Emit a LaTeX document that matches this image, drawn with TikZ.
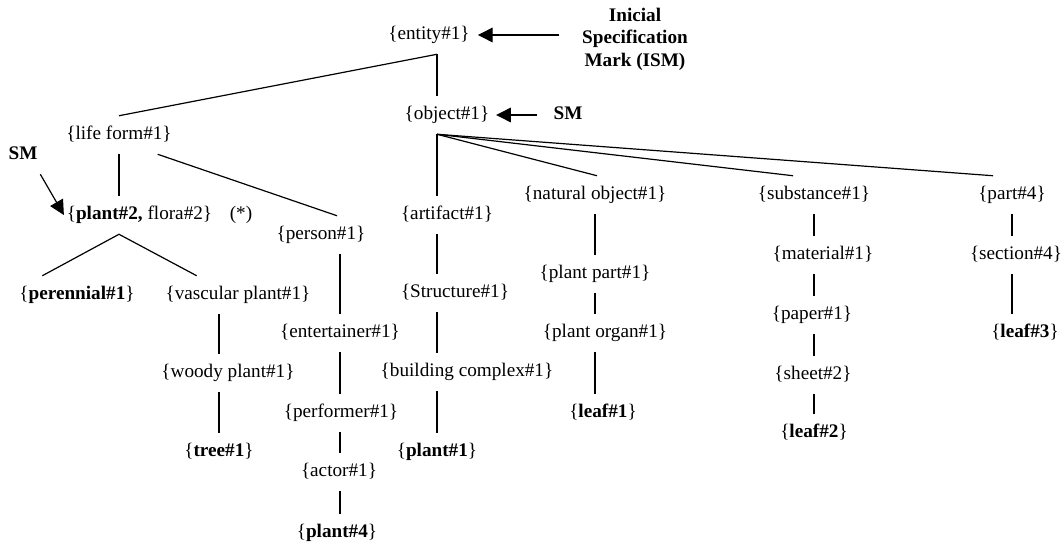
\documentclass[tikz,border=0pt]{standalone}
\usepackage{fontspec}
\setmainfont{Liberation Serif}
\usetikzlibrary{arrows.meta}
\tikzstyle{syn} = [inner xsep=2pt, inner ysep=7.5pt, text height=10pt, text depth=3.5pt, font=\fontsize{14.4}{17}\selectfont]
\tikzstyle{smlabel} = [syn, font=\fontsize{14.4}{17}\selectfont\bfseries]
\tikzstyle{ismlabel} = [inner sep=2pt, align=center, font=\fontsize{14.4}{16.9}\selectfont\bfseries]
\tikzstyle{link} = [line width=0.9pt]
\tikzstyle{markarrow} = [line width=0.9pt,-{Triangle[length=11pt,width=11pt]}]

\begin{document}
\begin{tikzpicture}[x=0.75pt,y=-0.75pt]
\useasboundingbox (0,0) rectangle (1063,543);

% top
\node[syn] (entity) at (429,35) {\{entity\#1\}};
\node[ismlabel] (ism) at (635,39) {Inicial\\Specification\\Mark (ISM)};
\node[syn] (object) at (447,115) {\{object\#1\}};
\node[smlabel] (smobj) at (568,115) {SM};

% life form branch
\node[syn] (lifeform) at (119,135) {\{life form\#1\}};
\node[smlabel] (smleft) at (23,155) {SM};
\node[syn] (plant2) at (139.5,215) {\{\textbf{plant\#2,} flora\#2\}};
\node[syn] (star) at (241,215) {(*)};
\node[syn] (perennial) at (77,295) {\{\textbf{perennial\#1}\}};
\node[syn] (vascular) at (238,295) {\{vascular plant\#1\}};
\node[syn] (woody) at (228,373) {\{woody plant\#1\}};
\node[syn] (tree) at (219,452) {\{\textbf{tree\#1}\}};
\node[syn] (person) at (321,235) {\{person\#1\}};
\node[syn] (entertainer) at (340,333) {\{entertainer\#1\}};
\node[syn] (performer) at (341,413) {\{performer\#1\}};
\node[syn] (actor) at (339,472) {\{actor\#1\}};
\node[syn] (plant4) at (337,533) {\{\textbf{plant\#4}\}};

% object branch
\node[syn] (artifact) at (447,215) {\{artifact\#1\}};
\node[syn] (structure) at (455,293) {\{Structure\#1\}};
\node[syn] (building) at (467,372) {\{building complex\#1\}};
\node[syn] (plant1) at (437,452) {\{\textbf{plant\#1}\}};
\node[syn] (natobj) at (595,195) {\{natural object\#1\}};
\node[syn] (plantpart) at (595,274) {\{plant part\#1\}};
\node[syn] (plantorgan) at (605,333) {\{plant organ\#1\}};
\node[syn] (leaf1) at (603,413) {\{\textbf{leaf\#1}\}};
\node[syn] (substance) at (814,195) {\{substance\#1\}};
\node[syn] (material) at (823,255) {\{material\#1\}};
\node[syn] (paper) at (812,315) {\{paper\#1\}};
\node[syn] (sheet) at (813,375) {\{sheet\#2\}};
\node[syn] (leaf2) at (814,433) {\{\textbf{leaf\#2}\}};
\node[syn] (part) at (1012,195) {\{part\#4\}};
\node[syn] (section) at (1016,255) {\{section\#4\}};
\node[syn] (leaf3) at (1025,333) {\{\textbf{leaf\#3}\}};

% slanted links
\draw[link] ([xshift=6pt]entity.south) -- (lifeform.north);
\draw[link] ([xshift=6pt]entity.south) -- ([xshift=-7.5pt]object.north);
\draw[link] ([xshift=-7.5pt]object.south) -- ([xshift=-7.5pt]artifact.north);
\draw[link] ([xshift=-7.5pt]object.south) -- ([xshift=1.5pt]natobj.north);
\draw[link] ([xshift=-7.5pt]object.south) -- ([xshift=-15.75pt]substance.north);
\draw[link] ([xshift=-7.5pt]object.south) -- ([xshift=-14.25pt]part.north);
\draw[link] ([xshift=29pt]lifeform.south) -- ([xshift=12pt]person.north);
\draw[link] ([xshift=-26pt]perennial.north) -- (plant2.south -| lifeform.south) -- ([xshift=-31pt]vascular.north);

% vertical links
\foreach \up/\down/\col in {lifeform/plant2/lifeform, vascular/woody/tree, woody/tree/tree,
  person/entertainer/entertainer, entertainer/performer/entertainer, performer/actor/entertainer, actor/plant4/entertainer,
  artifact/structure/plant1, structure/building/plant1, building/plant1/plant1,
  natobj/plantpart/natobj, plantpart/plantorgan/natobj, plantorgan/leaf1/natobj,
  substance/material/substance, material/paper/substance, paper/sheet/substance, sheet/leaf2/substance,
  part/section/part, section/leaf3/part}
{
\draw[link] (\up.south -| \col.south) -- (\down.north -| \col.south);
}

% marks
\draw[markarrow, shorten <=15pt, shorten >=4pt] (ism.west |- entity.east) -- (entity.east);
\draw[markarrow, shorten <=10pt, shorten >=3pt] (smobj.west) -- (object.east);
\draw[markarrow] (smleft.south east) -- (plant2.west);

\end{tikzpicture}
\end{document}
